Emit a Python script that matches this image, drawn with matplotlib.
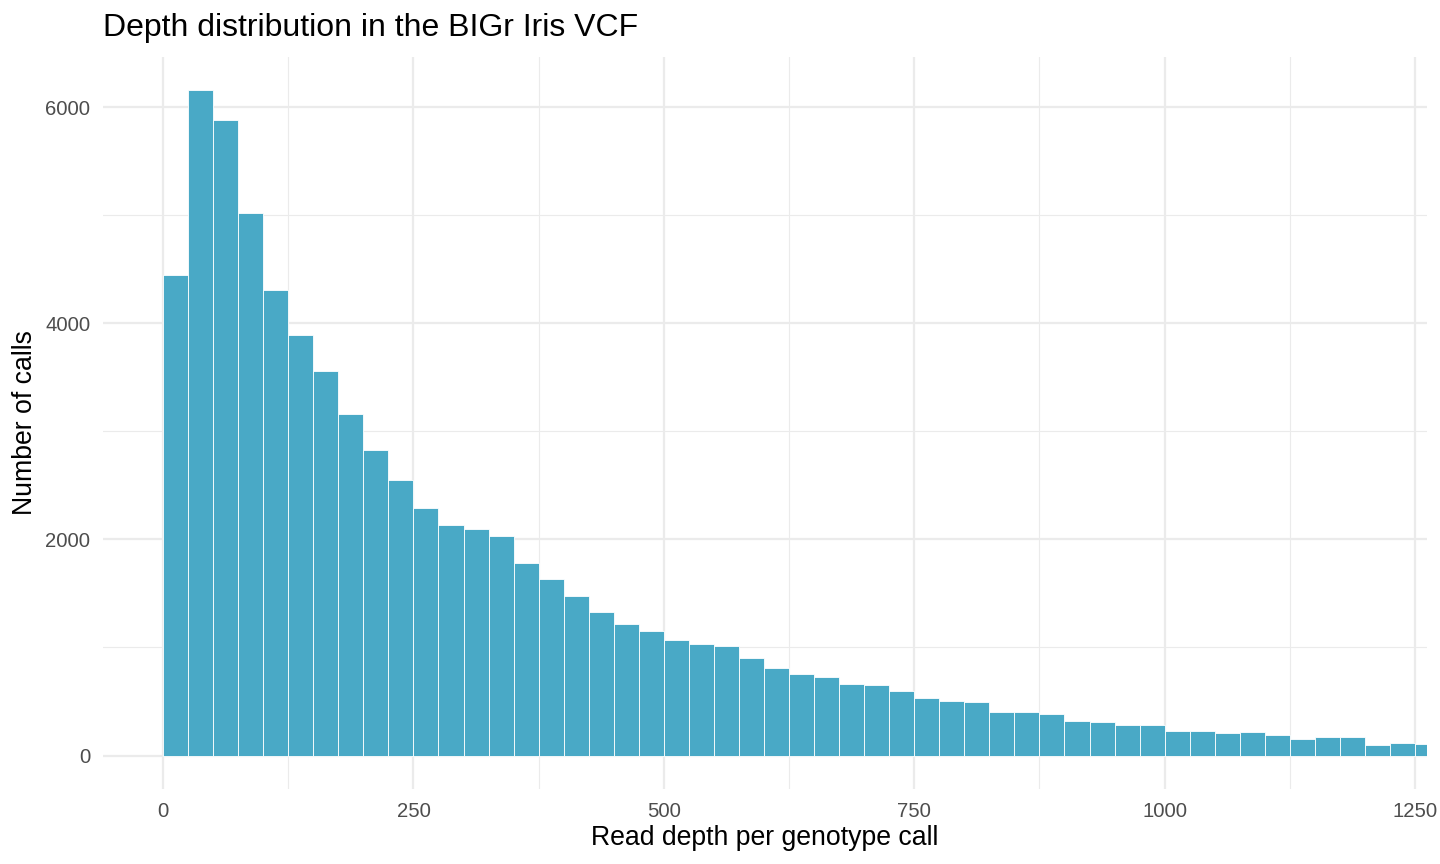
import numpy as np
import matplotlib
matplotlib.use("Agg")
import matplotlib.pyplot as plt

plt.rcParams["font.family"] = ["Liberation Sans", "DejaVu Sans"]

binwidth = 25
# counts per 25-wide depth bin, starting at 0
counts = [
    4447, 6157, 5882, 5021, 4312, 3892, 3558, 3160, 2830, 2549,
    2287, 2133, 2093, 2034, 1778, 1636, 1473, 1327, 1219, 1157,
    1065, 1034, 1009, 904, 809, 753, 725, 663, 652, 594,
    528, 506, 494, 407, 407, 383, 318, 310, 283, 284,
    230, 230, 210, 216, 191, 154, 167, 167, 99, 114,
    108,
]
bin_left = np.arange(len(counts)) * binwidth

x_ticks = [0, 250, 500, 750, 1000, 1250]
y_ticks = [0, 2000, 4000, 6000]

fig = plt.figure(figsize=(14.4, 8.64), dpi=100)
ax = fig.add_axes([0.0715, 0.0868, 0.9195, 0.8472])

ax.bar(
    bin_left,
    counts,
    width=binwidth,
    align="edge",
    color="#49A9C6",
    edgecolor="white",
    linewidth=0.6,
    zorder=3
)

ax.set_xlim(-60, 1262)
ax.set_ylim(-310, 6465)

ax.set_xticks(x_ticks)
ax.set_yticks(y_ticks)
ax.set_xticks([125, 375, 625, 875, 1125], minor=True)
ax.set_yticks([1000, 3000, 5000], minor=True)

ax.grid(True, which="major", color="#EBEBEB", linewidth=1.6, zorder=0)
ax.grid(True, which="minor", color="#EBEBEB", linewidth=0.8, zorder=0)
ax.set_axisbelow(True)

for s in ax.spines.values():
    s.set_visible(False)

ax.tick_params(which="both", length=0, labelsize=14.6, labelcolor="#4D4D4D")
ax.tick_params(axis="x", pad=9)
ax.tick_params(axis="y", pad=9)

ax.set_xlabel("Read depth per genotype call", fontsize=19.2, labelpad=3)
ax.set_ylabel("Number of calls", fontsize=19.2, labelpad=5)

ax.set_title(
    "Depth distribution in the BIGr Iris VCF",
    loc="left",
    fontsize=23,
    pad=15
)

fig.savefig("out.png", dpi=100)
